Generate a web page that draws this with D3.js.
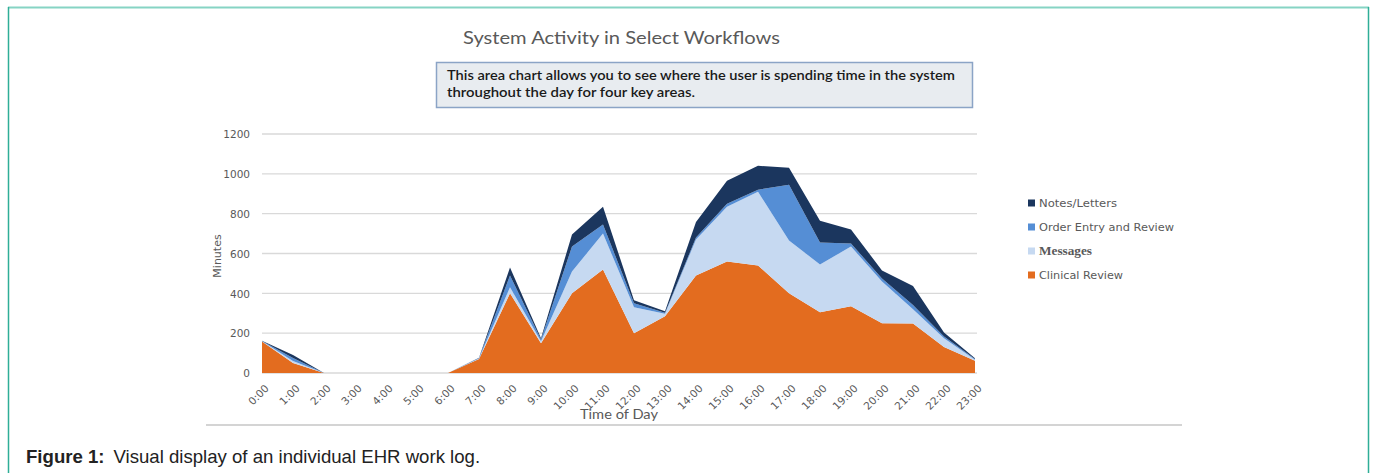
<!DOCTYPE html>
<html>
<head>
<meta charset="utf-8">
<script src="https://cdn.jsdelivr.net/npm/d3@7"></script>
<style>
  html, body { margin: 0; padding: 0; background: #ffffff; }
  svg { display: block; }
</style>
</head>
<body>
<svg id="chart" width="1375" height="473"></svg>
<script>
// ---- data ----
const hours = ["0:00","1:00","2:00","3:00","4:00","5:00","6:00","7:00","8:00","9:00","10:00","11:00",
               "12:00","13:00","14:00","15:00","16:00","17:00","18:00","19:00","20:00","21:00","22:00","23:00"];
const clinicalReview = [158, 50, 0, 0, 0, 0, 0, 70, 400, 150, 400, 520, 200, 285, 490, 560, 540, 400, 305, 335, 250, 248, 130, 62];
const messages       = [2, 10, 0, 0, 0, 0, 0, 3, 30, 10, 110, 180, 130, 12, 180, 275, 370, 265, 240, 300, 210, 72, 45, 5];
const orderEntry     = [1, 15, 0, 0, 0, 0, 0, 2, 60, 8, 125, 45, 20, 5, 10, 15, 10, 280, 110, 15, 15, 22, 8, 3];
const notesLetters   = [1, 15, 0, 0, 0, 0, 0, 2, 40, 7, 60, 90, 15, 8, 78, 115, 120, 85, 110, 70, 40, 95, 20, 4];
const yTicks = [0, 200, 400, 600, 800, 1000, 1200];
const seriesNames = ["Clinical Review", "Messages", "Order Entry and Review", "Notes/Letters"];
const legendOrder = ["Notes/Letters", "Order Entry and Review", "Messages", "Clinical Review"];
const titleText = "System Activity in Select Workflows";
const noteLines = ["This area chart allows you to see where the user is spending time in the system",
                   "throughout the day for four key areas."];
const yAxisTitle = "Minutes";
const xAxisTitle = "Time of Day";
const captionBold = "Figure 1:";
const captionText = "Visual display of an individual EHR work log.";

// ---- build table ----
const table = hours.map((h, i) => ({
  hour: h,
  "Clinical Review": clinicalReview[i],
  "Messages": messages[i],
  "Order Entry and Review": orderEntry[i],
  "Notes/Letters": notesLetters[i]
}));

const colors = {
  "Clinical Review": "#e36c1f",
  "Messages": "#c6d9f1",
  "Order Entry and Review": "#558ed5",
  "Notes/Letters": "#1b365e"
};

const svg = d3.select("#chart");
const grey = "#595959";

// frame
svg.append("line").attr("x1", 8).attr("x2", 1369).attr("y1", 7.5).attr("y2", 7.5)
  .attr("stroke", "#86d4c4").attr("stroke-width", 2);
svg.append("line").attr("x1", 8.5).attr("x2", 8.5).attr("y1", 7).attr("y2", 473)
  .attr("stroke", "#2fae97").attr("stroke-width", 1.5);
svg.append("line").attr("x1", 1368.5).attr("x2", 1368.5).attr("y1", 7).attr("y2", 473)
  .attr("stroke", "#2fae97").attr("stroke-width", 1.5);

// scales
const x = d3.scalePoint().domain(hours).range([262, 975]);
const y = d3.scaleLinear().domain([0, 1200]).range([373, 134]);

// gridlines
svg.append("g").selectAll("line").data(yTicks).join("line")
  .attr("x1", 262).attr("x2", 977)
  .attr("y1", d => y(d)).attr("y2", d => y(d))
  .attr("stroke", "#d9d9d9").attr("stroke-width", 1.3);

// stacked areas
const stack = d3.stack().keys(seriesNames);
const layers = stack(table);
const area = d3.area()
  .x(d => x(d.data.hour))
  .y0(d => y(d[0]))
  .y1(d => y(d[1]))
  .curve(d3.curveLinear);
svg.append("g").selectAll("path").data(layers).join("path")
  .attr("d", area)
  .attr("fill", d => colors[d.key]);

// y axis labels
const yAxis = d3.axisLeft(y).tickValues(yTicks).tickFormat(d3.format("d")).tickSize(0).tickPadding(0);
const gy = svg.append("g").attr("transform", "translate(250,0)").call(yAxis);
gy.select(".domain").remove();
gy.selectAll("text").attr("fill", grey).attr("font-family", "DejaVu Sans").attr("font-size", 10.5)
  .attr("x", 0).attr("dy", "0.35em");

// x axis labels
const xAxis = d3.axisBottom(x).tickSize(0).tickPadding(0);
const gx = svg.append("g").attr("transform", "translate(0,373)").call(xAxis);
gx.select(".domain").remove();
gx.selectAll("text")
  .attr("fill", grey).attr("font-family", "DejaVu Sans").attr("font-size", 10.5)
  .attr("text-anchor", "end")
  .attr("x", 0).attr("y", 0).attr("dy", 0)
  .attr("transform", "translate(7,16) rotate(-45)");

// axis titles
svg.append("text").text(yAxisTitle)
  .attr("transform", "translate(221,256) rotate(-90)")
  .attr("text-anchor", "middle").attr("fill", grey)
  .attr("font-family", "DejaVu Sans").attr("font-size", 11);
svg.append("text").text(xAxisTitle)
  .attr("x", 580).attr("y", 419)
  .attr("textLength", 78).attr("lengthAdjust", "spacingAndGlyphs")
  .attr("fill", grey).attr("font-family", "Lato").attr("font-size", 13.5);

// chart bottom rule
svg.append("line").attr("x1", 206).attr("x2", 1182).attr("y1", 425).attr("y2", 425)
  .attr("stroke", "#d4d4d4").attr("stroke-width", 2);

// title
svg.append("text").text(titleText)
  .attr("x", 463).attr("y", 44)
  .attr("textLength", 317).attr("lengthAdjust", "spacingAndGlyphs")
  .attr("fill", grey).attr("font-family", "Lato").attr("font-size", 18);

// note box
svg.append("rect").attr("x", 436.5).attr("y", 62.5).attr("width", 536).attr("height", 45)
  .attr("fill", "#e8ecf0").attr("stroke", "#8ba4c6").attr("stroke-width", 1.5);
const noteLens = [508, 248];
svg.append("g").selectAll("text").data(noteLines).join("text")
  .text(d => d)
  .attr("x", 447).attr("y", (d, i) => 80 + i * 17)
  .attr("textLength", (d, i) => noteLens[i]).attr("lengthAdjust", "spacingAndGlyphs")
  .attr("fill", "#1a1a1a").attr("font-family", "Lato").attr("font-weight", 600).attr("font-size", 13);

// legend
const legendLens = { "Notes/Letters": 78, "Order Entry and Review": 135, "Messages": 53, "Clinical Review": 84 };
const lg = svg.append("g").selectAll("g").data(legendOrder).join("g")
  .attr("transform", (d, i) => `translate(1028,${203 + i * 24})`);
lg.append("rect").attr("x", 0).attr("y", -3.5).attr("width", 7).attr("height", 7)
  .attr("fill", d => colors[d]);
lg.append("text").text(d => d)
  .attr("x", 11).attr("y", 0).attr("dy", "0.35em")
  .attr("textLength", d => legendLens[d]).attr("lengthAdjust", "spacingAndGlyphs")
  .attr("fill", grey)
  .attr("font-family", d => d === "Messages" ? "Liberation Serif" : "DejaVu Sans")
  .attr("font-weight", d => d === "Messages" ? "bold" : "normal")
  .attr("font-size", d => d === "Messages" ? 12 : 10.5);

// caption
const cap = svg.append("text").attr("x", 26).attr("y", 463)
  .attr("font-family", "Liberation Sans").attr("font-size", 18.6).attr("fill", "#222222");
cap.append("tspan").attr("font-weight", "bold").text(captionBold);
cap.append("tspan").attr("dx", 9).text(captionText);
</script>
</body>
</html>
